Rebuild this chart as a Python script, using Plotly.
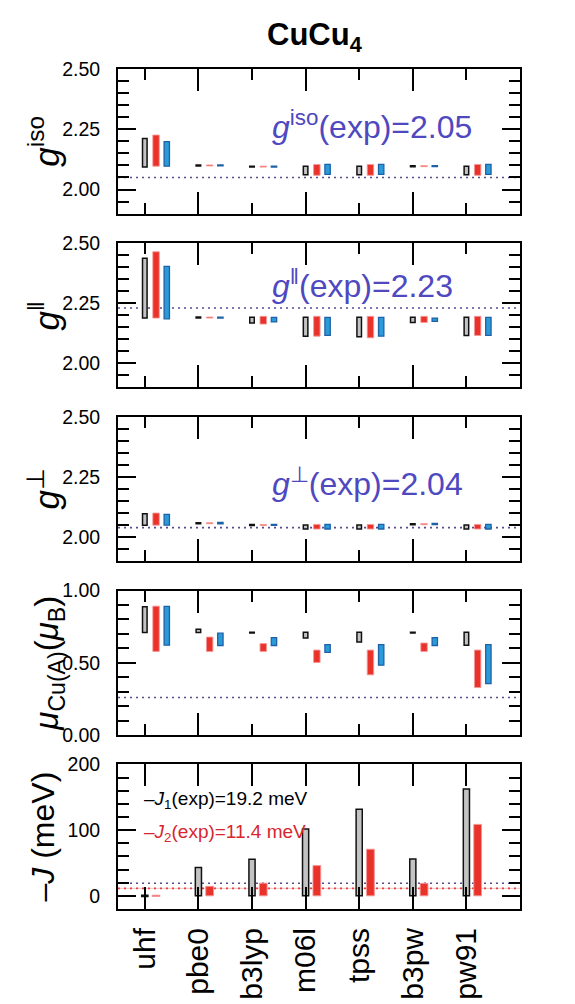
import plotly.graph_objects as go
from plotly.subplots import make_subplots

functionals = ["uhf", "pbe0", "b3lyp", "m06l", "tpss", "b3pw", "pw91"]
idx = list(range(len(functionals)))

# ---- g_iso (low / high of each floating bar) ----
giso_gray_lo = [2.094, 2.098, 2.093, 2.061, 2.061, 2.095, 2.061]
giso_gray_hi = [2.212, 2.102, 2.097, 2.097, 2.097, 2.099, 2.097]
giso_red_lo = [2.097, 2.098, 2.093, 2.059, 2.059, 2.095, 2.059]
giso_red_hi = [2.226, 2.102, 2.097, 2.104, 2.104, 2.099, 2.104]
giso_blue_lo = [2.097, 2.098, 2.093, 2.063, 2.063, 2.095, 2.063]
giso_blue_hi = [2.199, 2.102, 2.097, 2.104, 2.104, 2.099, 2.104]
giso_exp = 2.05

# ---- g_parallel ----
gpar_gray_lo = [2.188, 2.188, 2.167, 2.113, 2.110, 2.170, 2.116]
gpar_gray_hi = [2.436, 2.192, 2.191, 2.191, 2.191, 2.191, 2.191]
gpar_red_lo = [2.188, 2.188, 2.163, 2.113, 2.106, 2.170, 2.116]
gpar_red_hi = [2.463, 2.192, 2.195, 2.195, 2.195, 2.195, 2.195]
gpar_blue_lo = [2.185, 2.188, 2.172, 2.116, 2.113, 2.174, 2.116]
gpar_blue_hi = [2.402, 2.192, 2.191, 2.191, 2.191, 2.188, 2.191]
gpar_exp = 2.23

# ---- g_perpendicular ----
gperp_gray_lo = [2.050, 2.056, 2.049, 2.034, 2.034, 2.052, 2.034]
gperp_gray_hi = [2.097, 2.060, 2.053, 2.051, 2.051, 2.056, 2.051]
gperp_red_lo = [2.050, 2.056, 2.049, 2.034, 2.034, 2.052, 2.034]
gperp_red_hi = [2.100, 2.060, 2.053, 2.053, 2.053, 2.056, 2.053]
gperp_blue_lo = [2.050, 2.055, 2.049, 2.034, 2.034, 2.052, 2.034]
gperp_blue_hi = [2.095, 2.061, 2.053, 2.053, 2.053, 2.057, 2.053]
gperp_exp = 2.04

# ---- mu_Cu(A) ----
mu_gray_lo = [0.709, 0.709, 0.707, 0.671, 0.644, 0.707, 0.622]
mu_gray_hi = [0.887, 0.732, 0.711, 0.712, 0.712, 0.711, 0.712]
mu_red_lo = [0.579, 0.579, 0.579, 0.502, 0.417, 0.579, 0.329]
mu_red_hi = [0.892, 0.678, 0.633, 0.588, 0.588, 0.637, 0.588]
mu_blue_lo = [0.622, 0.620, 0.620, 0.572, 0.484, 0.620, 0.356]
mu_blue_hi = [0.890, 0.705, 0.674, 0.626, 0.626, 0.674, 0.626]
mu_exp = 0.26

# ---- -J (meV) ----
J1_lo = [-1.0, 0, 0, 0, 0, 0, 0]
J1_hi = [1.0, 43.0, 55.5, 101.6, 131.6, 56.0, 162.6]
J2_lo = [-1.0, 0, 0, 0, 0, 0, 0]
J2_hi = [1.0, 14.5, 19.3, 46.0, 71.0, 19.0, 108.7]
J1_exp = 19.2
J2_exp = 11.4

# ---- styles ----
FONT = "Liberation Sans"
GRAY_FILL, GRAY_LINE = "#c3c3c3", "#111111"
RED_FILL, RED_LINE = "#e8322a", "rgba(246,150,150,0.9)"
BLUE_FILL, BLUE_LINE = "#2b9ad9", "#1d62a8"
DOT_PURPLE = "#5a4a8e"
TEXT_PURPLE = "#4f48c0"
TEXT_RED = "#d8262e"

fig = make_subplots(rows=5, cols=1)

def add_bar(row, lo, hi, fill, line, lw, center, width):
    fig.add_trace(go.Bar(
        x=idx, y=[h - l for l, h in zip(lo, hi)], base=lo,
        width=width, offset=center - width / 2,
        marker=dict(color=fill, line=dict(color=line, width=lw)),
        hoverinfo="skip"), row=row, col=1)

panels = [
    (giso_gray_lo, giso_gray_hi, giso_red_lo, giso_red_hi, giso_blue_lo, giso_blue_hi),
    (gpar_gray_lo, gpar_gray_hi, gpar_red_lo, gpar_red_hi, gpar_blue_lo, gpar_blue_hi),
    (gperp_gray_lo, gperp_gray_hi, gperp_red_lo, gperp_red_hi, gperp_blue_lo, gperp_blue_hi),
    (mu_gray_lo, mu_gray_hi, mu_red_lo, mu_red_hi, mu_blue_lo, mu_blue_hi),
]
for r, (gl, gh, rl, rh, bl, bh) in enumerate(panels, start=1):
    add_bar(r, gl, gh, GRAY_FILL, GRAY_LINE, 1.5, 0.0, 0.085)
    add_bar(r, rl, rh, RED_FILL, RED_LINE, 1.0, 0.21, 0.12)
    add_bar(r, bl, bh, BLUE_FILL, BLUE_LINE, 1.3, 0.41, 0.10)
add_bar(5, J1_lo, J1_hi, GRAY_FILL, GRAY_LINE, 1.5, 0.0, 0.115)
add_bar(5, J2_lo, J2_hi, RED_FILL, RED_LINE, 1.0, 0.21, 0.145)

# panel domains (paper fraction, top panel first)
h = 0.1722
gap = (1 - 5 * h) / 4
domains = [[1 - (i + 1) * h - i * gap, 1 - i * h - i * gap] for i in range(5)]

base_axis = dict(showline=True, linewidth=2, linecolor="black", mirror="ticks",
                 ticks="inside", tickwidth=2, tickcolor="black",
                 showgrid=False, zeroline=False)

yspecs = [
    dict(range=[1.90, 2.50], tick0=2.0, dtick=0.25, tickformat=".2f", minor_d=0.05),
    dict(range=[1.90, 2.50], tick0=2.0, dtick=0.25, tickformat=".2f", minor_d=0.05),
    dict(range=[1.90, 2.50], tick0=2.0, dtick=0.25, tickformat=".2f", minor_d=0.05),
    dict(range=[0.0, 1.0], tick0=0.0, dtick=0.5, tickformat=".2f", minor_d=0.1),
    dict(range=[-20, 200], tick0=0, dtick=100, tickformat="d", minor_d=20),
]
for i, ys in enumerate(yspecs):
    r = i + 1
    fig.update_yaxes(base_axis, row=r, col=1, domain=domains[i], range=ys["range"],
                     tickmode="linear", tick0=ys["tick0"], dtick=ys["dtick"],
                     tickformat=ys["tickformat"], ticklen=18,
                     tickfont=dict(size=19.5, color="black", family=FONT),
                     ticklabelstandoff=12,
                     minor=dict(ticks="inside", ticklen=11, tickwidth=2, tickcolor="black",
                                tickmode="linear", tick0=0, dtick=ys["minor_d"]))
    if r < 5:
        fig.update_xaxes(base_axis, row=r, col=1, range=[-0.5, 7.0],
                         tickmode="linear", tick0=1, dtick=2, ticklen=22,
                         showticklabels=False,
                         minor=dict(ticks="inside", ticklen=11, tickwidth=2, tickcolor="black",
                                    tickmode="linear", tick0=0, dtick=1))
    else:
        fig.update_xaxes(base_axis, row=r, col=1, range=[-0.5, 7.0],
                         tickmode="array", tickvals=idx, ticktext=functionals,
                         ticklen=22, tickangle=-90, ticklabelstandoff=5,
                         tickfont=dict(size=30, color="black", family=FONT))

# experimental reference lines
exp_lines = [(1, giso_exp, DOT_PURPLE), (2, gpar_exp, DOT_PURPLE), (3, gperp_exp, DOT_PURPLE),
             (4, mu_exp, DOT_PURPLE), (5, J1_exp, DOT_PURPLE), (5, J2_exp, "#ec3a3a")]
for r, yv, col in exp_lines:
    xr = "x" if r == 1 else f"x{r}"
    yr = "y" if r == 1 else f"y{r}"
    fig.add_shape(type="line", xref=f"{xr} domain", yref=yr, x0=0, x1=1, y0=yv, y1=yv,
                  line=dict(color=col, width=1.6, dash="2px,4px"), layer="below")
fig.add_shape(type="line", xref="x5 domain", yref="y5", x0=0, x1=1, y0=J2_exp, y1=J2_exp,
              line=dict(color="rgba(236,80,80,0.35)", width=1), layer="below")

ann = []
# in-panel experimental value labels
ann.append(dict(xref="x", yref="y", x=2.33, y=2.268, xanchor="left", yanchor="middle",
                text=f"<i>g</i><sup>iso</sup>(exp)={giso_exp:.2f}", showarrow=False,
                font=dict(size=32, color=TEXT_PURPLE, family=FONT)))
ann.append(dict(xref="x2", yref="y2", x=2.33, y=2.330, xanchor="left", yanchor="middle",
                text=f"<i>g</i><sup>‖</sup>(exp)={gpar_exp:.2f}", showarrow=False,
                font=dict(size=32, color=TEXT_PURPLE, family=FONT)))
ann.append(dict(xref="x3", yref="y3", x=2.33, y=2.230, xanchor="left", yanchor="middle",
                text=f"<i>g</i><sup>⊥</sup>(exp)={gperp_exp:.2f}", showarrow=False,
                font=dict(size=32, color=TEXT_PURPLE, family=FONT)))
ann.append(dict(xref="x5", yref="y5", x=-0.05, y=146, xanchor="left", yanchor="middle",
                text=f"–<i>J</i><sub>1</sub>(exp)={J1_exp} meV", showarrow=False,
                font=dict(size=19, color="black", family=FONT)))
ann.append(dict(xref="x5", yref="y5", x=-0.05, y=96, xanchor="left", yanchor="middle",
                text=f"–<i>J</i><sub>2</sub>(exp)={J2_exp} meV", showarrow=False,
                font=dict(size=19, color=TEXT_RED, family=FONT)))

# y-axis titles
ytitles = ["<i>g</i><sup>iso</sup>", "<i>g</i><sup>‖</sup>", "<i>g</i><sup>⊥</sup>",
           "<i>μ</i><sub>Cu(A)</sub>(<i>μ</i><sub>B</sub>)", "–<i>J</i> (meV)"]
ytitle_x = [-0.183, -0.183, -0.183, -0.172, -0.187]
ytitle_size = [35, 35, 35, 33, 32]
for i, t in enumerate(ytitles):
    ann.append(dict(xref="paper", yref="paper", x=ytitle_x[i], y=sum(domains[i]) / 2,
                    xanchor="center", yanchor="middle", textangle=-90, text=t,
                    showarrow=False, font=dict(size=ytitle_size[i], color="black", family=FONT)))

# title
ann.append(dict(xref="paper", yref="paper", x=0.49, y=1.038, xanchor="center", yanchor="middle",
                text="<b>CuCu<sub>4</sub></b>", showarrow=False,
                font=dict(size=31, color="black", family=FONT)))

fig.update_layout(width=575, height=1004, margin=dict(l=110, r=63, t=61, b=86),
                  plot_bgcolor="white", paper_bgcolor="white", showlegend=False,
                  barmode="overlay", annotations=ann, font=dict(family=FONT))

fig.write_html("out.html")
